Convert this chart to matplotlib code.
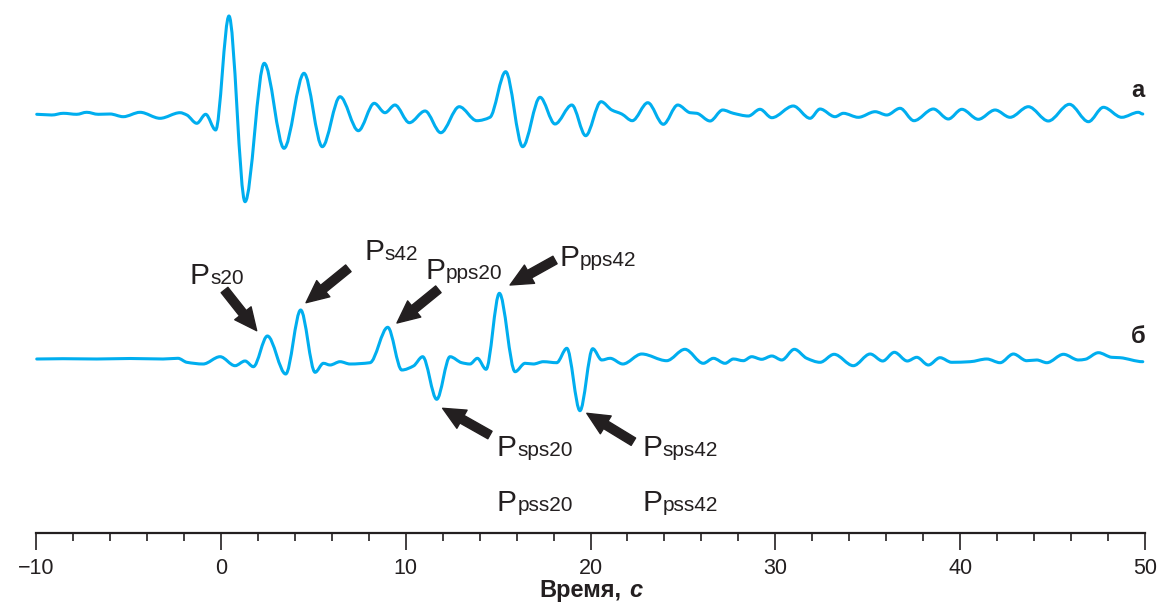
import matplotlib
matplotlib.use("Agg")
import matplotlib.pyplot as plt
from matplotlib.path import Path
from matplotlib.patches import PathPatch
from matplotlib.ticker import MultipleLocator

plt.rcParams['font.family'] = ['Liberation Sans', 'DejaVu Sans']

# ---------------- data (time in s, amplitude in arbitrary units) ----------------
time_a = [-9.96, -9.15, -8.52, -7.80, -7.26, -6.63, -5.99, -5.28, -4.37, -3.29,
          -2.21, -1.84, -1.30, -0.82, -0.28, 0.44, 1.31, 2.35, 3.42, 4.50,
          5.49, 6.45, 7.44, 8.30, 8.88, 9.42, 10.20, 11.05, 11.90, 12.90,
          13.85, 14.56, 15.41, 16.33, 17.27, 18.08, 18.99, 19.74, 20.57, 21.15,
          21.69, 22.26, 23.10, 23.94, 24.72, 25.39, 25.75, 26.47, 27.15, 27.73,
          28.54, 29.17, 29.81, 30.97, 31.88, 32.42, 33.23, 33.68, 34.49, 35.40,
          36.03, 36.75, 37.50, 38.55, 39.36, 40.09, 40.98, 41.89, 42.70, 43.69,
          44.77, 45.91, 46.94, 47.75, 48.74, 49.64, 49.88]
amp_a = [-0.3, -1.0, 0.7, -0.3, 1.7, -0.3, 0.0, -2.7, 1.7, -4.3,
         1.3, -1.0, -9.3, -0.3, -16.0, 98.0, -87.7, 50.7, -34.3, 40.7,
         -32.7, 17.3, -16.7, 10.7, 1.3, 9.0, -8.7, 3.0, -18.7, 7.3,
         -6.7, -3.3, 42.3, -32.7, 16.7, -10.0, 9.0, -21.7, 12.3, 4.0,
         0.0, -6.7, 11.3, -10.3, 9.0, 1.3, 0.7, -7.0, 4.0, 0.7,
         -2.0, 4.7, -3.7, 8.0, -4.3, 5.0, -2.7, 0.7, -3.3, 2.3,
         -1.0, 5.7, -6.7, 5.0, -5.0, 4.7, -5.3, 4.0, -3.3, 7.3,
         -7.0, 9.7, -7.7, 6.7, -3.3, 1.7, 0.0]

time_b = [-9.96, -8.54, -6.71, -4.91, -3.13, -2.32, -1.84, -0.96, -0.04, 0.77,
          1.31, 1.76, 2.52, 3.51, 4.32, 5.10, 5.55, 5.91, 6.45, 6.99,
          8.07, 9.03, 9.79, 10.42, 10.92, 11.68, 12.40, 13.03, 13.48, 13.88,
          14.35, 15.07, 15.92, 16.46, 16.91, 17.45, 18.17, 18.72, 19.43, 20.12,
          20.61, 21.06, 21.75, 22.77, 24.12, 25.11, 26.10, 26.65, 27.28, 27.73,
          28.27, 28.72, 29.26, 29.81, 30.35, 31.03, 31.70, 32.42, 33.18, 34.22,
          35.13, 35.81, 36.44, 37.14, 37.65, 38.28, 38.91, 39.54, 40.54, 41.44,
          42.16, 42.88, 43.60, 44.14, 44.69, 45.59, 46.40, 46.76, 47.48, 48.20,
          48.65, 49.88]
amp_b = [0.0, 0.3, 0.0, 0.5, 0.0, 0.7, -3.3, -5.0, 2.3, -6.7,
         -2.0, -7.7, 23.0, -15.0, 49.0, -13.3, -4.3, -6.0, -2.7, -5.0,
         -3.7, 31.7, -11.0, -7.0, 2.3, -40.3, 2.3, -3.7, -5.0, 0.7,
         -10.3, 65.7, -12.7, -4.3, -5.0, -2.7, -3.7, 10.7, -51.7, 10.3,
         -1.0, 0.7, -5.0, 5.0, -1.7, 9.7, -4.3, 0.7, -4.3, 0.0,
         -1.7, 2.3, -0.3, 3.0, -1.0, 9.7, 0.7, -3.3, 4.7, -6.7,
         5.0, -2.0, 6.7, -2.0, 1.7, -6.0, 1.3, -3.3, -2.7, 0.0,
         -3.7, 5.0, -1.7, -1.0, -3.7, 4.7, -1.0, -0.3, 6.3, 1.7,
         1.3, -2.7]

trace_labels = ['а', 'б']
x_ticks = [-10, 0, 10, 20, 30, 40, 50]

# phase annotations: subscript, label pos (t, y), arrow tail, arrow tip
phase_names = ['s20', 's42', 'pps20', 'pps42', 'sps20', 'sps42', 'pss20', 'pss42']
phase_label_t = [-1.70, 7.76, 11.05, 18.31, 14.93, 22.80, 14.93, 22.80]
phase_label_y = [249, 273, 253.7, 267, 77, 77, 22.3, 22.3]
arrow_tail = [(0.20, 243.0), (6.90, 264.7), (11.77, 243.7), (18.08, 273.0),
              (14.56, 98.0), (22.32, 91.3), None, None]
arrow_tip = [(1.94, 202.3), (4.61, 230.3), (9.53, 210.0), (15.65, 248.0),
             (12.00, 124.7), (19.80, 119.7), None, None]

# ---------------- styling constants ----------------
CYAN = '#00AEEF'
INK = '#231f20'
OFFSET_A = 419.0
OFFSET_B = 174.0


def smooth_path(t, a, off):
    """Monotone cubic Bezier path through the read points."""
    n = len(t)
    y = [v + off for v in a]
    d = [(y[i + 1] - y[i]) / (t[i + 1] - t[i]) for i in range(n - 1)]
    m = [0.0] * n
    for i in range(1, n - 1):
        if d[i - 1] * d[i] <= 0:
            m[i] = 0.0
        else:
            m[i] = 2.0 / (1.0 / d[i - 1] + 1.0 / d[i])
    verts = [(t[0], y[0])]
    codes = [Path.MOVETO]
    for i in range(n - 1):
        h = t[i + 1] - t[i]
        verts += [(t[i] + h / 3.0, y[i] + m[i] * h / 3.0),
                  (t[i + 1] - h / 3.0, y[i + 1] - m[i + 1] * h / 3.0),
                  (t[i + 1], y[i + 1])]
        codes += [Path.CURVE4] * 3
    return Path(verts, codes)


fig = plt.figure(figsize=(11.58, 6.02), dpi=100)
ax = fig.add_axes([36 / 1158, 69 / 602, 1109 / 1158, 533 / 602])
ax.set_xlim(-10, 50)
ax.set_ylim(0, 533)

for tt, aa, off in [(time_a, amp_a, OFFSET_A), (time_b, amp_b, OFFSET_B)]:
    ax.add_patch(PathPatch(smooth_path(tt, aa, off), fill=False,
                           edgecolor=CYAN, lw=2.2, capstyle='round',
                           joinstyle='round', clip_on=False))

ax.text(49.62, OFFSET_A + 16.7, trace_labels[0], ha='center', va='baseline',
        fontsize=17, fontweight='bold', color=INK)
ax.text(49.62, OFFSET_B + 15.7, trace_labels[1], ha='center', va='baseline',
        fontsize=17, fontweight='bold', color=INK)

for name, lt, ly, tail, tip in zip(phase_names, phase_label_t, phase_label_y,
                                   arrow_tail, arrow_tip):
    ax.text(lt, ly, 'P', ha='left', va='baseline', fontsize=21.5, color=INK)
    ax.annotate(name, xy=(lt, ly), xytext=(14.8, 0), textcoords='offset points',
                ha='left', va='baseline', fontsize=15, color=INK)
    if tail is not None:
        ax.annotate('', xy=tip, xytext=tail,
                    arrowprops=dict(arrowstyle='simple,head_length=1.6,head_width=1.5,tail_width=0.62',
                                    mutation_scale=10, color=INK, shrinkA=0, shrinkB=0))

for s in ['left', 'right', 'top']:
    ax.spines[s].set_visible(False)
ax.spines['bottom'].set_linewidth(1.6)
ax.spines['bottom'].set_color(INK)
ax.set_yticks([])
ax.set_xticks(x_ticks)
ax.xaxis.set_minor_locator(MultipleLocator(2))
ax.tick_params(axis='x', which='major', length=12.2, width=1.2, color=INK,
               labelsize=15.5, labelcolor=INK, pad=6)
ax.tick_params(axis='x', which='minor', length=5.5, width=1.2, color=INK)
ax.patch.set_alpha(0)

fig.text(622 / 1158, 1 - 597 / 602, 'Время,', ha='right', va='baseline',
         fontsize=17, fontweight='bold', color=INK)
fig.text(629 / 1158, 1 - 597 / 602, 'с', ha='left', va='baseline',
         fontsize=17, fontweight='bold', fontstyle='italic', color=INK)

fig.savefig('out.png', dpi=100)
